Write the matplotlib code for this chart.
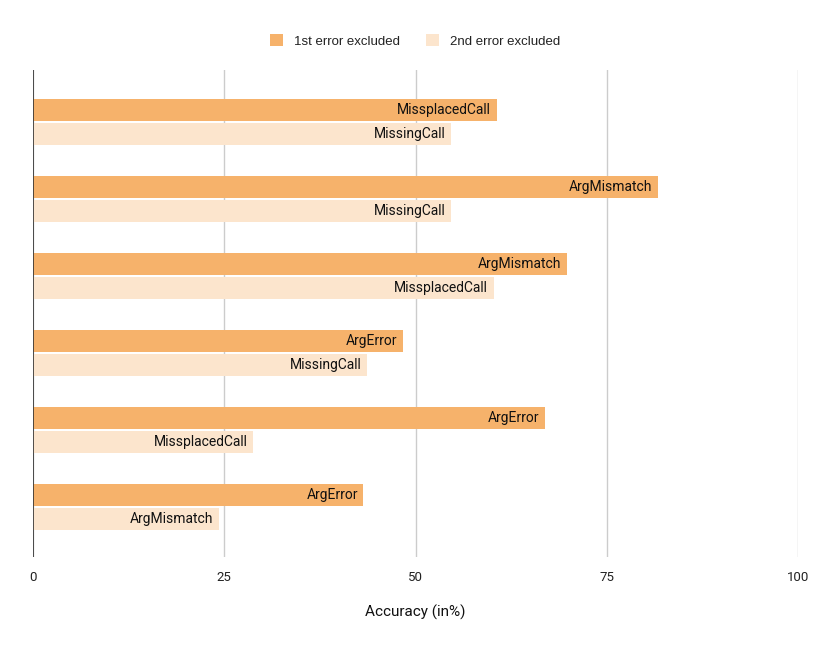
import matplotlib
matplotlib.use("Agg")
import matplotlib.pyplot as plt
from matplotlib.patches import Patch

plt.rcParams['font.family'] = ['Roboto', 'DejaVu Sans']

series_names = ["1st error excluded", "2nd error excluded"]
first_values = [60.6, 81.7, 69.8, 48.4, 66.9, 43.2]
second_values = [54.6, 54.6, 60.2, 43.7, 28.8, 24.3]
first_labels = ["MissplacedCall", "ArgMismatch", "ArgMismatch", "ArgError", "ArgError", "ArgError"]
second_labels = ["MissingCall", "MissingCall", "MissplacedCall", "MissingCall", "MissplacedCall", "ArgMismatch"]
x_ticks = [0, 25, 50, 75, 100]
x_label = "Accuracy (in%)"

c1 = "#F6B26B"
c2 = "#FCE5CD"

fig = plt.figure(figsize=(8.3, 6.54), dpi=100)
ax = fig.add_axes([33/830, 1-557/654, (798-33)/830, (557-70)/654])

n = len(first_values)
ys = list(range(n))
h = 0.285
off = 0.156
ax.barh([y - off for y in ys], first_values, height=h, color=c1, edgecolor='none', zorder=2)
ax.barh([y + off for y in ys], second_values, height=h, color=c2, edgecolor='none', zorder=2)

for y, v, lab in zip(ys, first_values, first_labels):
    ax.annotate(lab, (v, y - off), xytext=(-4, 0), textcoords='offset points',
                ha='right', va='center', fontsize=10, color='#111111', zorder=3)
for y, v, lab in zip(ys, second_values, second_labels):
    ax.annotate(lab, (v, y + off), xytext=(-4, 0), textcoords='offset points',
                ha='right', va='center', fontsize=10, color='#111111', zorder=3)

ax.set_xlim(0, 100)
ax.set_ylim(n - 1 + 0.65, -0.675)
ax.set_xticks(x_ticks)
ax.set_xticklabels([str(t) for t in x_ticks], fontsize=9.5, color='#222222')
ax.set_yticks([])
ax.tick_params(axis='x', length=0, pad=10)
ax.grid(axis='x', color='#cccccc', linewidth=1, zorder=0)
ax.axvline(0, color='#333333', linewidth=1.2, zorder=4)
for s in ax.spines.values():
    s.set_visible(False)
ax.set_xlabel(x_label, fontsize=11, color='#111111', labelpad=15)

handles = [Patch(facecolor=c1, edgecolor='none'), Patch(facecolor=c2, edgecolor='none')]
fig.legend(handles, series_names, loc='center', bbox_to_anchor=(0.5, 1-41/654), ncol=2,
           frameon=False, prop={'family': ['Liberation Sans'], 'size': 9.5},
           handlelength=1.0, handleheight=1.0,
           columnspacing=2.0, handletextpad=0.8, labelcolor='#222222')

fig.savefig("out.png", dpi=100)
